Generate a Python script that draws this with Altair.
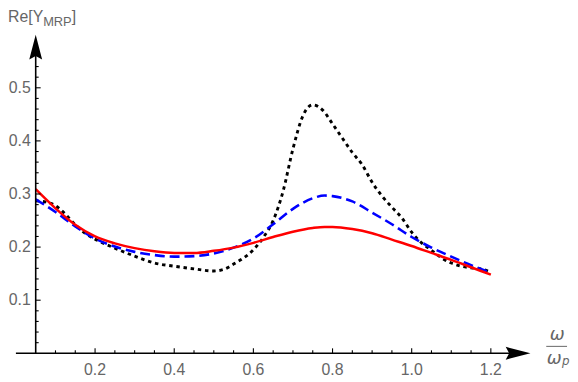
import altair as alt
import pandas as pd

# ---- data ----
x_red = [0.05, 0.1, 0.15, 0.2, 0.25, 0.3, 0.35, 0.4, 0.45, 0.5, 0.55, 0.6, 0.65, 0.7, 0.75, 0.78,
         0.8, 0.85, 0.9, 0.95, 1.0, 1.05, 1.1, 1.15, 1.2]
y_red = [0.309, 0.273, 0.242, 0.220, 0.207, 0.198, 0.192, 0.189, 0.189, 0.193, 0.199, 0.208, 0.219,
         0.229, 0.236, 0.238, 0.238, 0.234, 0.226, 0.214, 0.202, 0.189, 0.176, 0.162, 0.148]

x_blue = [0.05, 0.1, 0.15, 0.2, 0.25, 0.3, 0.35, 0.4, 0.45, 0.5, 0.55, 0.6, 0.65, 0.7, 0.75, 0.78,
          0.8, 0.85, 0.9, 0.95, 1.0, 1.05, 1.1, 1.15, 1.2]
y_blue = [0.290, 0.266, 0.239, 0.216, 0.201, 0.191, 0.185, 0.182, 0.183, 0.188, 0.199, 0.216, 0.243,
          0.272, 0.292, 0.297, 0.296, 0.286, 0.265, 0.243, 0.219, 0.199, 0.182, 0.166, 0.152]

x_black = [0.05, 0.075, 0.1, 0.125, 0.15, 0.175, 0.2, 0.25, 0.3, 0.35, 0.4, 0.45, 0.5, 0.525, 0.55,
           0.6, 0.625, 0.65, 0.675, 0.7, 0.725, 0.75, 0.775, 0.8, 0.825, 0.85, 0.875, 0.9, 0.925,
           0.95, 0.975, 1.0, 1.025, 1.05, 1.075, 1.1, 1.125, 1.15, 1.175, 1.2]
y_black = [0.287, 0.285, 0.278, 0.262, 0.242, 0.226, 0.215, 0.198, 0.183, 0.170, 0.164, 0.159, 0.155,
           0.158, 0.168, 0.195, 0.218, 0.250, 0.305, 0.385, 0.447, 0.468, 0.458, 0.432, 0.405,
           0.378, 0.355, 0.322, 0.296, 0.275, 0.255, 0.228, 0.208, 0.194, 0.180, 0.170, 0.164,
           0.161, 0.159, 0.153]

x_major = [0.2, 0.4, 0.6, 0.8, 1.0, 1.2]
x_major_labels = ["0.2", "0.4", "0.6", "0.8", "1.0", "1.2"]
x_minor = [0.1, 0.15, 0.25, 0.3, 0.35, 0.45, 0.5, 0.55, 0.65, 0.7, 0.75, 0.85, 0.9, 0.95,
           1.05, 1.1, 1.15]
y_major = [0.1, 0.2, 0.3, 0.4, 0.5]
y_major_labels = ["0.1", "0.2", "0.3", "0.4", "0.5"]
y_minor = [0.02, 0.04, 0.06, 0.08, 0.12, 0.14, 0.16, 0.18, 0.22, 0.24, 0.26, 0.28, 0.32, 0.34,
           0.36, 0.38, 0.42, 0.44, 0.46, 0.48, 0.52, 0.54]

X_MIN, X_MAX = 0.0, 1.3
Y_MIN, Y_MAX = 0.0, 0.6
Y_AXIS_AT = 0.05

xs = alt.Scale(domain=[X_MIN, X_MAX], nice=False, zero=False)
ys = alt.Scale(domain=[Y_MIN, Y_MAX], nice=False, zero=False)

FONT = "Liberation Sans"
GRAY = "#666666"


def line(xv, yv, color, dash, width):
    df = pd.DataFrame({"x": xv, "y": yv})
    kw = dict(color=color, strokeWidth=width, interpolate="monotone", clip=False)
    if dash:
        kw["strokeDash"] = dash
        kw["strokeCap"] = "butt"
    return alt.Chart(df).mark_line(**kw).encode(
        x=alt.X("x:Q", scale=xs, axis=None),
        y=alt.Y("y:Q", scale=ys, axis=None),
    )


black = line(x_black, y_black, "#000000", [3.5, 3.8], 2.9)
blue = line(x_blue, y_blue, "#0000ff", [10, 5], 2.6)
red = line(x_red, y_red, "#ff0000", None, 2.5)

# axes lines
xaxis = alt.Chart(pd.DataFrame({"a": [X_MIN], "b": [X_MAX - 0.02], "y": [0.0]})).mark_rule(
    color="black", strokeWidth=1.6).encode(
    x=alt.X("a:Q", scale=xs), x2="b:Q", y=alt.Y("y:Q", scale=ys))
yaxis = alt.Chart(pd.DataFrame({"x": [Y_AXIS_AT], "a": [Y_MIN], "b": [Y_MAX - 0.03]})).mark_rule(
    color="black", strokeWidth=1.6).encode(
    x=alt.X("x:Q", scale=xs), y=alt.Y("a:Q", scale=ys), y2="b:Q")

# ticks
def yticks(vals, length):
    return alt.Chart(pd.DataFrame({"v": vals})).mark_rule(
        color="black", strokeWidth=1.1, x2Offset=length).encode(
        x=alt.datum(Y_AXIS_AT, scale=xs), x2=alt.datum(Y_AXIS_AT),
        y=alt.Y("v:Q", scale=ys))


def xticks(vals, length):
    return alt.Chart(pd.DataFrame({"v": vals})).mark_rule(
        color="black", strokeWidth=1.1, y2Offset=-length).encode(
        y=alt.datum(0.0, scale=ys), y2=alt.datum(0.0),
        x=alt.X("v:Q", scale=xs))


ylab = alt.Chart(pd.DataFrame({"v": y_major, "t": y_major_labels})).mark_text(
    font=FONT, fontSize=16, color=GRAY, align="right", baseline="middle", dx=-5).encode(
    x=alt.datum(Y_AXIS_AT, scale=xs), y=alt.Y("v:Q", scale=ys), text="t:N")
xlab = alt.Chart(pd.DataFrame({"v": x_major, "t": x_major_labels})).mark_text(
    font=FONT, fontSize=16, color=GRAY, align="center", baseline="alphabetic", dy=22).encode(
    y=alt.datum(0.0, scale=ys), x=alt.X("v:Q", scale=xs), text="t:N")

# arrowheads
up_path = "M0,-1 L0.52,1 L0,0.72 L-0.52,1 Z"
right_path = "M1,0 L-1,-0.52 L-0.72,0 L-1,0.52 Z"
yarrow = alt.Chart(pd.DataFrame({"x": [Y_AXIS_AT], "y": [Y_MAX]})).mark_point(
    shape=up_path, size=625, filled=True, color="black", opacity=1, yOffset=12.5).encode(
    x=alt.X("x:Q", scale=xs), y=alt.Y("y:Q", scale=ys))
xarrow = alt.Chart(pd.DataFrame({"x": [X_MAX], "y": [0.0]})).mark_point(
    shape=right_path, size=625, filled=True, color="black", opacity=1, xOffset=-12.5).encode(
    x=alt.X("x:Q", scale=xs), y=alt.Y("y:Q", scale=ys))

# axis titles (annotations)
def txt(s, px, py, size, align="left", style="normal"):
    return alt.Chart(pd.DataFrame({"t": [s]})).mark_text(
        font=FONT, fontSize=size, color=GRAY, align=align, baseline="alphabetic",
        fontStyle=style).encode(x=alt.value(px), y=alt.value(py), text="t:N")


ytitle = [txt("Re[Y", -8, -13, 16), txt("MRP", 27.5, -9, 13), txt("]", 56.5, -13, 16)]
om_font = "DejaVu Sans"
num = alt.Chart(pd.DataFrame({"t": ["ω"]})).mark_text(
    font=om_font, fontSize=18, fontStyle="italic", color=GRAY, align="center",
    baseline="alphabetic").encode(x=alt.value(547), y=alt.value(308.5), text="t:N")
den = alt.Chart(pd.DataFrame({"t": ["ω"]})).mark_text(
    font=om_font, fontSize=18, fontStyle="italic", color=GRAY, align="center",
    baseline="alphabetic").encode(x=alt.value(544), y=alt.value(333), text="t:N")
sub_p = alt.Chart(pd.DataFrame({"t": ["p"]})).mark_text(
    font=om_font, fontSize=12, fontStyle="italic", color=GRAY, align="left",
    baseline="alphabetic").encode(x=alt.value(552), y=alt.value(333.5), text="t:N")
bar = alt.Chart(pd.DataFrame({"t": [0]})).mark_rule(color=GRAY, strokeWidth=1).encode(
    x=alt.value(536), x2=alt.value(557), y=alt.value(315))

chart = alt.layer(
    black, blue, red,
    xaxis, yaxis,
    yticks(y_major, 5), yticks(y_minor, 3), xticks(x_major, 5), xticks(x_minor, 3),
    ylab, xlab, yarrow, xarrow,
    *ytitle, num, den, sub_p, bar,
).properties(
    width=520, height=322,
    autosize=alt.AutoSizeParams(type="none"),
    padding={"left": 8, "top": 25, "right": 40, "bottom": 24},
).configure_view(stroke=None)

chart.save("out.html", embed_options={"renderer": "svg", "actions": False})
